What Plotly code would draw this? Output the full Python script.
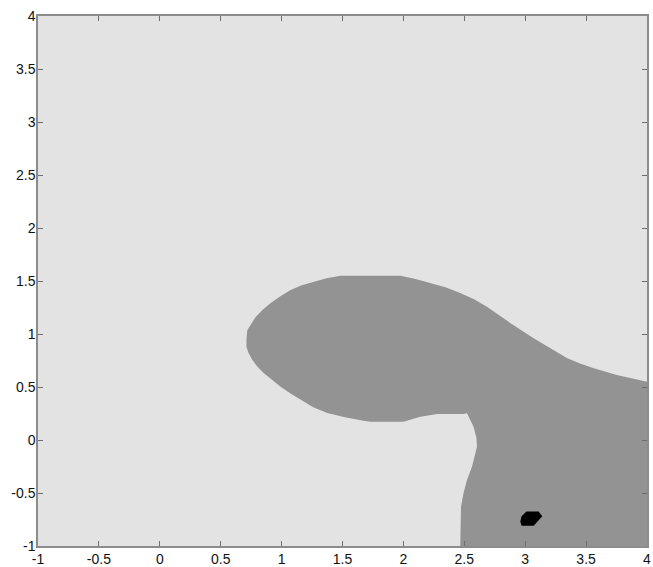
import plotly.graph_objects as go

# Dark-gray region outline (data coordinates)
region_x = [0.719, 0.750, 0.787, 0.845, 0.910, 0.990, 1.074, 1.165, 1.262, 1.370, 1.484,
            1.975, 2.100, 2.221, 2.345, 2.467, 2.580, 2.686,
            2.877, 3.066, 3.205, 3.342, 3.450, 3.557, 3.752, 4.0, 4.0,
            2.467, 2.473, 2.494, 2.522, 2.563, 2.604, 2.600, 2.576, 2.545, 2.522,
            2.492, 2.276, 2.139, 2.0, 1.730, 1.672, 1.520, 1.375, 1.260, 1.156, 1.070, 0.992,
            0.920, 0.852, 0.800, 0.760, 0.730, 0.711, 0.712]
region_y = [1.038, 1.100, 1.160, 1.228, 1.292, 1.357, 1.415, 1.460, 1.493, 1.525, 1.550,
            1.550, 1.520, 1.481, 1.440, 1.387, 1.328, 1.258,
            1.104, 0.962, 0.868, 0.774, 0.722, 0.679, 0.613, 0.550, -1.0,
            -1.0, -0.629, -0.500, -0.377, -0.252, -0.063, 0.02, 0.125, 0.205, 0.252,
            0.245, 0.245, 0.220, 0.173, 0.173, 0.182, 0.214, 0.255, 0.310, 0.377, 0.440, 0.503,
            0.568, 0.632, 0.693, 0.755, 0.818, 0.880, 0.960]

# Small black region
spot_x = [3.01, 3.11, 3.14, 3.08, 3.07, 2.97, 2.96, 2.97]
spot_y = [-0.675, -0.675, -0.72, -0.79, -0.81, -0.81, -0.77, -0.72]

tick_vals = [-1, -0.5, 0, 0.5, 1, 1.5, 2, 2.5, 3, 3.5, 4]
tick_text = ["-1", "-0.5", "0", "0.5", "1", "1.5", "2", "2.5", "3", "3.5", "4"]

fig = go.Figure()
fig.add_trace(go.Scatter(x=region_x, y=region_y, mode="lines", fill="toself",
                         fillcolor="#939393", line=dict(width=0, color="#939393"),
                         hoverinfo="skip", showlegend=False))
fig.add_trace(go.Scatter(x=spot_x, y=spot_y, mode="lines", fill="toself",
                         fillcolor="#000000", line=dict(width=0, color="#000000"),
                         hoverinfo="skip", showlegend=False))

axis_common = dict(
    tickvals=tick_vals, ticktext=tick_text, range=[-1, 4],
    showgrid=False, zeroline=False, showline=True, linecolor="#8c8c8c",
    linewidth=1.5, mirror="ticks", ticks="inside", ticklen=5, tickcolor="#6e6e6e",
    tickfont=dict(family="Liberation Sans, Arial, sans-serif", size=14, color="#111111"),
    automargin=False,
)
fig.update_xaxes(**axis_common, ticklabelstandoff=-1)
fig.update_yaxes(**axis_common, ticklabelstandoff=-2)

fig.update_layout(
    width=653, height=567,
    margin=dict(l=38, r=6, t=16, b=21),
    paper_bgcolor="white", plot_bgcolor="#e3e3e3",
    showlegend=False,
)

fig.write_html("out.html", config={"displayModeBar": False},
               post_script="document.body.style.margin='0px';document.body.style.overflow='hidden';")
